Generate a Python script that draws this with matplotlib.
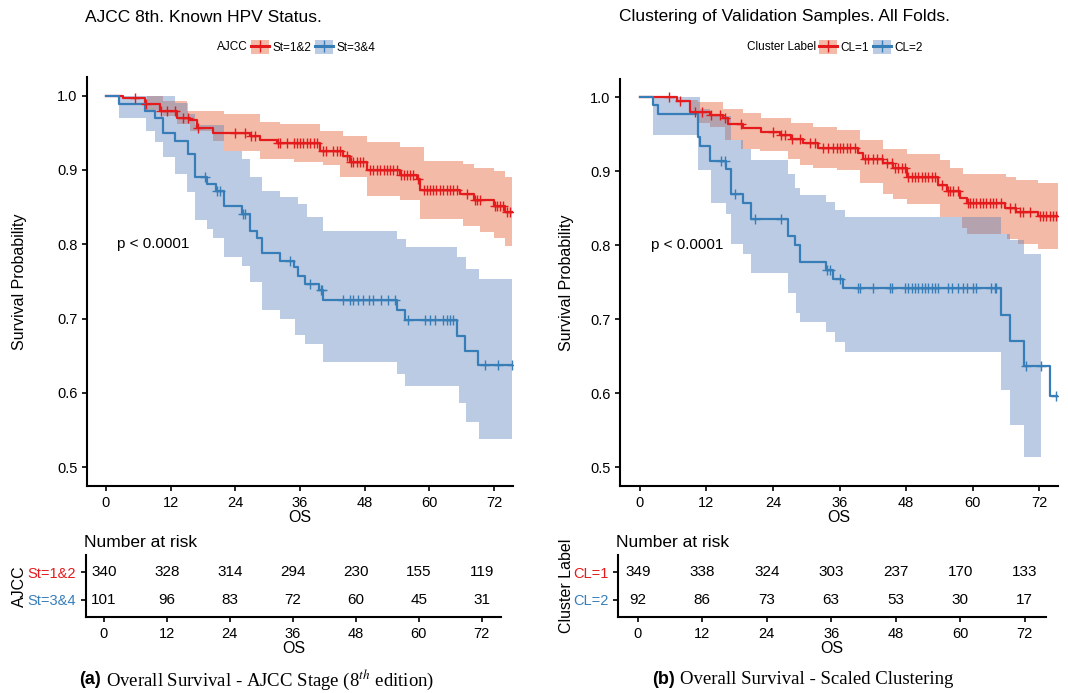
import numpy as np
import matplotlib
matplotlib.use('Agg')
import matplotlib.pyplot as plt
from matplotlib.patches import Patch
from matplotlib.lines import Line2D

plt.rcParams['font.family'] = ['Liberation Sans', 'DejaVu Sans']
plt.rcParams['mathtext.fontset'] = 'stix'

RED = '#E41A1C'
BLUE = '#377EB8'
RED_FILL = '#E35525'
BLUE_FILL = '#577DB9'
FILL_ALPHA = 0.4

months = [0, 12, 24, 36, 48, 60, 72]

# ---- panel (a): AJCC 8th, St=1&2
a1_t = [0, 3.2, 7.2, 10.0, 13.1, 15.6, 16.8, 19.9, 26.7, 28.6, 31.7, 39.7, 44.0, 45.3,
        48.4, 54.5, 57.6, 58.3, 65.7, 68.2, 71.9, 74.0]
a1_s = [1.0, 0.997, 0.988, 0.979, 0.970, 0.967, 0.957, 0.949, 0.945, 0.940, 0.936, 0.926,
        0.919, 0.910, 0.900, 0.893, 0.888, 0.873, 0.867, 0.859, 0.852, 0.844]
a1_end = 75.4
a1_hi_t = [0, 10.6, 15.0, 21.8, 28.6, 32.3, 39.7, 44.0, 48.4, 54.5, 58.9, 66.3, 68.2, 71.9, 74.0, 75.4]
a1_hi = [1.0, 0.993, 0.979, 0.975, 0.964, 0.962, 0.953, 0.946, 0.937, 0.931, 0.912, 0.908,
         0.902, 0.898, 0.891, 0.891]
a1_lo_t = [0, 7.6, 10.6, 13.1, 15.6, 19.9, 21.8, 28.6, 34.8, 40.3, 43.4, 48.4, 54.5, 58.3,
           66.3, 69.4, 71.9, 74.0, 75.4]
a1_lo = [1.0, 0.980, 0.972, 0.962, 0.953, 0.939, 0.926, 0.915, 0.910, 0.906, 0.890, 0.865,
         0.859, 0.834, 0.825, 0.816, 0.809, 0.797, 0.797]
a1_cens = [5.4, 7.5, 10.2, 11.3, 12.8, 14.3, 15.3, 17.1, 23.9, 25.8, 26.9, 27.6, 31.9, 32.3,
           33.5, 34.8, 35.4, 36.0, 36.6, 37.2, 37.8, 38.5, 39.1, 40.3, 40.9, 42.2, 42.8, 43.4,
           44.7, 45.5, 45.9, 46.5, 47.1, 47.7, 49.0, 49.6, 50.2, 50.8, 51.5, 52.1, 52.7, 53.3,
           53.9, 54.7, 55.2, 55.8, 56.4, 57.0, 57.8, 58.9, 59.5, 60.1, 60.7, 61.3, 62.0, 62.6,
           63.2, 63.8, 64.4, 65.1, 66.9, 68.4, 68.8, 69.4, 72.1, 72.5, 73.1, 73.7, 74.3, 75.0]

# ---- panel (a): St=3&4
a2_t = [0, 2.5, 7.2, 9.1, 10.5, 12.8, 15.3, 16.5, 18.7, 20.5, 21.8, 25.2, 26.8, 28.0, 28.9,
        32.2, 34.8, 35.7, 36.9, 39.6, 40.3, 53.9, 55.5, 65.1, 66.6, 69.1]
a2_s = [1.0, 0.989, 0.979, 0.970, 0.950, 0.939, 0.921, 0.890, 0.881, 0.872, 0.851, 0.841,
        0.818, 0.809, 0.788, 0.778, 0.769, 0.757, 0.747, 0.738, 0.725, 0.711, 0.698, 0.676,
        0.656, 0.637]
a2_end = 75.3
a2_hi_t = [0, 12.8, 15.3, 16.5, 21.8, 25.3, 26.8, 28.9, 32.2, 35.7, 37.2, 40.3, 53.9, 55.7,
           65.2, 66.7, 69.2, 75.4]
a2_hi = [1.0, 0.990, 0.975, 0.960, 0.926, 0.915, 0.890, 0.872, 0.863, 0.854, 0.837, 0.818,
         0.807, 0.796, 0.783, 0.767, 0.753, 0.753]
a2_lo_t = [0, 2.5, 7.5, 9.1, 10.5, 12.8, 15.0, 16.5, 18.7, 19.9, 21.9, 25.3, 26.8, 29.0, 32.2,
           35.1, 36.9, 40.3, 53.9, 55.5, 65.4, 66.7, 69.2, 75.4]
a2_lo = [1.0, 0.970, 0.953, 0.937, 0.918, 0.895, 0.870, 0.832, 0.821, 0.809, 0.783, 0.771,
         0.749, 0.712, 0.700, 0.678, 0.666, 0.642, 0.626, 0.609, 0.586, 0.561, 0.538, 0.538]
a2_cens = [18.4, 20.6, 21.2, 25.4, 25.8, 34.1, 37.8, 39.8, 40.1, 44.0, 45.3, 45.9, 46.8, 47.7,
           48.7, 49.6, 51.1, 52.4, 53.6, 56.1, 59.2, 60.1, 61.0, 62.6, 63.2, 63.8, 64.4, 70.3,
           72.8, 75.3]

# ---- panel (b): clustering, CL=1
b1_t = [0, 6.6, 9.0, 12.6, 15.0, 15.9, 18.6, 21.9, 25.2, 27.3, 29.4, 32.2, 39.4, 40.3, 43.9,
        45.7, 48.1, 53.8, 55.3, 57.7, 58.9, 65.8, 67.9, 71.8]
b1_s = [1.0, 0.995, 0.981, 0.977, 0.972, 0.964, 0.959, 0.953, 0.949, 0.944, 0.939, 0.932,
        0.925, 0.917, 0.912, 0.905, 0.892, 0.882, 0.873, 0.864, 0.857, 0.851, 0.845, 0.840]
b1_end = 75.4
b1_hi_t = [0, 6.9, 10.5, 15.0, 18.6, 21.9, 27.3, 31.3, 35.5, 39.7, 43.9, 48.1, 54.1, 55.9,
           58.3, 66.1, 67.9, 71.8, 75.4]
b1_hi = [1.0, 0.997, 0.994, 0.985, 0.979, 0.972, 0.966, 0.960, 0.956, 0.942, 0.931, 0.924,
         0.916, 0.905, 0.897, 0.893, 0.889, 0.884, 0.884]
b1_lo_t = [0, 6.9, 9.0, 10.5, 12.6, 15.3, 18.3, 21.6, 26.7, 28.8, 31.3, 35.5, 39.7, 43.9,
           45.7, 48.1, 54.1, 58.0, 58.9, 66.2, 68.2, 71.8, 75.4]
b1_lo = [1.0, 0.994, 0.978, 0.966, 0.960, 0.943, 0.931, 0.928, 0.917, 0.909, 0.905, 0.902,
         0.884, 0.869, 0.863, 0.856, 0.839, 0.823, 0.816, 0.808, 0.802, 0.795, 0.795]
b1_cens = [5.3, 7.2, 9.9, 11.1, 12.9, 14.4, 15.3, 18.3, 24.0, 25.4, 26.1, 27.5, 28.8, 30.6,
           31.6, 33.1, 34.0, 34.9, 35.5, 36.1, 36.7, 37.3, 37.9, 38.8, 40.5, 41.2, 42.1, 42.7,
           43.6, 44.5, 45.4, 46.0, 46.6, 47.2, 47.8, 48.4, 49.0, 49.6, 50.2, 50.8, 51.4, 52.0,
           52.6, 53.2, 54.4, 55.5, 55.9, 56.5, 57.4, 59.1, 59.5, 60.1, 60.7, 61.3, 61.9, 62.5,
           63.1, 63.7, 64.3, 65.2, 66.7, 67.6, 68.5, 69.1, 70.3, 72.1, 72.7, 73.3, 73.9, 74.5,
           75.1]

# ---- panel (b): CL=2
b2_t = [0, 2.4, 3.3, 10.5, 10.8, 12.6, 15.6, 16.5, 18.6, 20.1, 26.7, 27.9, 28.8, 33.5, 34.9,
        36.7, 65.2, 66.7, 69.2, 74.0]
b2_s = [1.0, 0.990, 0.978, 0.947, 0.934, 0.914, 0.903, 0.870, 0.858, 0.836, 0.813, 0.800,
        0.778, 0.767, 0.754, 0.742, 0.706, 0.671, 0.637, 0.596]
b2_end = 75.4
b2_hi_t = [0, 10.8, 12.6, 16.5, 18.6, 20.1, 26.7, 27.9, 28.8, 33.5, 35.1, 36.9, 65.2, 66.7,
           69.2, 72.4]
b2_hi = [1.0, 0.985, 0.975, 0.942, 0.931, 0.915, 0.896, 0.878, 0.868, 0.859, 0.848, 0.839,
         0.815, 0.807, 0.788, 0.788]
b2_lo_t = [0, 2.4, 10.5, 12.9, 15.6, 16.5, 18.6, 20.1, 26.7, 28.2, 28.9, 33.5, 35.1, 36.9,
           65.2, 66.7, 69.2, 72.4]
b2_lo = [1.0, 0.949, 0.902, 0.858, 0.843, 0.802, 0.789, 0.763, 0.736, 0.709, 0.696, 0.683,
         0.670, 0.656, 0.604, 0.557, 0.514, 0.514]
b2_cens = [14.7, 15.3, 17.1, 20.7, 25.5, 33.7, 34.3, 36.1, 39.4, 39.7, 42.1, 45.1, 45.4, 47.8,
           48.4, 49.0, 49.6, 50.2, 50.8, 51.4, 52.0, 52.6, 53.2, 53.8, 55.6, 56.2, 57.4, 58.3,
           58.9, 60.1, 60.7, 63.4, 64.0, 64.3, 69.7, 72.4, 75.0]

# ---- number at risk
a_risk1 = [340, 328, 314, 294, 230, 155, 119]
a_risk2 = [101, 96, 83, 72, 60, 45, 31]
b_risk1 = [349, 338, 324, 303, 237, 170, 133]
b_risk2 = [92, 86, 73, 63, 53, 30, 17]


def step_eval(t, v, x):
    idx = np.searchsorted(t, x, side='right') - 1
    return np.asarray(v)[idx]


def style_axes(ax):
    for s in ['top', 'right']:
        ax.spines[s].set_visible(False)
    for s in ['left', 'bottom']:
        ax.spines[s].set_linewidth(1.5)
    ax.tick_params(direction='out', length=3.5, width=1.2, labelsize=10.5, colors='black')


def draw_curve(ax, t, s, end, hi_t, hi, lo_t, lo, cens, color, fill):
    grid = np.union1d(hi_t, lo_t)
    grid = grid[grid <= max(hi_t[-1], lo_t[-1])]
    ax.fill_between(grid, step_eval(lo_t, lo, grid), step_eval(hi_t, hi, grid),
                    step='post', color=fill, alpha=FILL_ALPHA, lw=0)
    ax.step(list(t) + [end], list(s) + [s[-1]], where='post', color=color, lw=1.6, zorder=3)
    ax.plot(cens, step_eval(t, s, cens), ls='none', marker='+', ms=6.5, mew=1.0,
            color=color, zorder=4)


def draw_km(ax, curves, xlim, ylab_x):
    # red band first, blue on top (so overlap looks mauve)
    for c in curves:
        draw_curve(ax, *c)
    ax.set_xlim(*xlim)
    ax.set_ylim(0.4747, 1.025)
    ax.set_xticks(months)
    ax.set_yticks([0.5, 0.6, 0.7, 0.8, 0.9, 1.0])
    ax.set_yticklabels(['0.5', '0.6', '0.7', '0.8', '0.9', '1.0'])
    ax.set_xlabel('OS', fontsize=11.5, labelpad=0)
    ax.set_ylabel('Survival Probability', fontsize=11.5)
    ax.yaxis.set_label_coords(ylab_x, 0.5)
    ax.text(2.0, 0.80, 'p < 0.0001', fontsize=11, va='center', ha='left')
    style_axes(ax)


def draw_risk(ax, r1, r2, labels, title, xlim, ylab_x):
    for x, n1, n2 in zip(months, r1, r2):
        ax.text(x, 2, str(n1), ha='center', va='center', fontsize=11)
        ax.text(x, 1, str(n2), ha='center', va='center', fontsize=11)
    ax.set_xlim(*xlim)
    ax.set_ylim(0.39, 2.61)
    ax.set_xticks(months)
    ax.set_yticks([2, 1])
    ax.set_yticklabels(labels)
    ax.set_xlabel('OS', fontsize=11.5, labelpad=0)
    ax.set_ylabel(title, fontsize=11.5)
    ax.yaxis.set_label_coords(ylab_x, 0.5)
    ax.set_title('Number at risk', loc='left', fontsize=12.5, pad=6, x=-0.005)
    style_axes(ax)
    ax.tick_params(axis='y', labelsize=10.5)
    for lab, col in zip(ax.get_yticklabels(), [RED, BLUE]):
        lab.set_color(col)


W, H = 1068, 693
fig = plt.figure(figsize=(W / 100, H / 100), dpi=100)

ax_a = fig.add_axes([87 / W, 1 - 486 / H, 426 / W, 409 / H])
ax_b = fig.add_axes([620 / W, 1 - 486 / H, 438 / W, 407 / H])
tab_a = fig.add_axes([86 / W, 1 - 617 / H, 415 / W, 62 / H])
tab_b = fig.add_axes([618 / W, 1 - 617 / H, 428 / W, 62 / H])

draw_km(ax_a, [
    (a1_t, a1_s, a1_end, a1_hi_t, a1_hi, a1_lo_t, a1_lo, a1_cens, RED, RED_FILL),
    (a2_t, a2_s, a2_end, a2_hi_t, a2_hi, a2_lo_t, a2_lo, a2_cens, BLUE, BLUE_FILL),
], (-3.52, 75.5), -0.141)
draw_km(ax_b, [
    (b1_t, b1_s, b1_end, b1_hi_t, b1_hi, b1_lo_t, b1_lo, b1_cens, RED, RED_FILL),
    (b2_t, b2_s, b2_end, b2_hi_t, b2_hi, b2_lo_t, b2_lo, b2_cens, BLUE, BLUE_FILL),
], (-3.6, 75.4), -0.105)

draw_risk(tab_a, a_risk1, a_risk2, ['St=1&2', 'St=3&4'], 'AJCC', (-3.4, 75.7), -0.142)
draw_risk(tab_b, b_risk1, b_risk2, ['CL=1', 'CL=2'], 'Cluster Label', (-3.7, 76.0), -0.103)

# titles
fig.text(85 / W, 1 - 17 / H, 'AJCC 8th. Known HPV Status.', fontsize=12.5, va='center')
fig.text(619 / W, 1 - 17 / H, 'Clustering of Validation Samples. All Folds.', fontsize=12.5,
         va='center')


def legend_handle(color, fill):
    return (Patch(facecolor=fill, alpha=FILL_ALPHA, lw=0),
            Line2D([], [], color=color, lw=2.2, marker='+', ms=8, mew=1.0))


def top_legend(title, box_x, labels):
    y = 1 - 47 / H
    fig.text((box_x - 3) / W, y, title, fontsize=8.5, va='center', ha='right')
    fig.legend([legend_handle(RED, RED_FILL), legend_handle(BLUE, BLUE_FILL)], labels,
               loc='center left', bbox_to_anchor=(box_x / W, y), ncol=2, frameon=False,
               fontsize=8.5, borderpad=0, borderaxespad=0, handlelength=1.5, handleheight=1.4,
               handletextpad=0.3, columnspacing=0.35)


top_legend('AJCC', 251, ['St=1&2', 'St=3&4'])
top_legend('Cluster Label', 819, ['CL=1', 'CL=2'])

# sub-figure captions: bold sans tag + serif text, centred
renderer = fig.canvas.get_renderer()


def caption(xc, tag, text):
    y = 1 - 680 / H
    t1 = fig.text(0, y, tag, fontsize=13, fontweight='bold', va='center')
    t2 = fig.text(0, y, text, fontsize=13.5, family='Liberation Serif', va='center')
    w1 = t1.get_window_extent(renderer).width
    w2 = t2.get_window_extent(renderer).width
    gap = 5
    x0 = xc - (w1 + gap + w2) / 2
    t1.set_x(x0 / W)
    t2.set_x((x0 + w1 + gap) / W)


caption(257, '(a)', 'Overall Survival - AJCC Stage (8$^{th}$ edition)')
caption(803, '(b)', 'Overall Survival - Scaled Clustering')

fig.savefig('out.png', dpi=100)
